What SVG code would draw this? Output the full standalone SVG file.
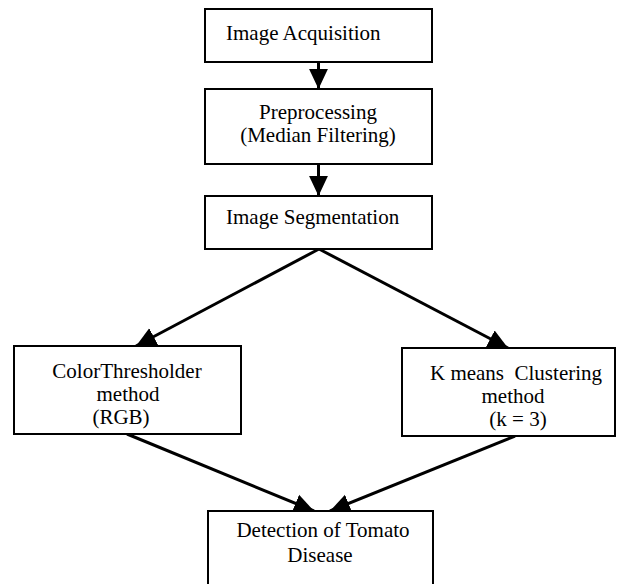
<svg xmlns="http://www.w3.org/2000/svg" width="617" height="584" viewBox="0 0 617 584">
<style>
.box{fill:#fff;stroke:#000;stroke-width:2}
.t{font-family:"Liberation Serif","Times New Roman",serif;font-size:21px;fill:#000}
.c{text-anchor:middle}
.edge{stroke:#000;stroke-width:3;fill:none}
</style>
<defs>
<marker id="ah" markerUnits="userSpaceOnUse" markerWidth="20" markerHeight="20" viewBox="0 0 17 16" refX="17" refY="8" orient="auto">
<path d="M0,0 L17,8 L0,16 Z" fill="#000"/>
</marker>
</defs>
<rect width="617" height="584" fill="#fff"/>
<g id="connectors">
<line class="edge" x1="318.5" y1="62" x2="318.5" y2="89" marker-end="url(#ah)"/>
<line class="edge" x1="318.5" y1="164" x2="318.5" y2="196" marker-end="url(#ah)"/>
<line class="edge" x1="319" y1="249" x2="136" y2="346" marker-end="url(#ah)"/>
<line class="edge" x1="319" y1="249" x2="508" y2="348" marker-end="url(#ah)"/>
<line class="edge" x1="127" y1="434" x2="314" y2="511" marker-end="url(#ah)"/>
<line class="edge" x1="515" y1="436" x2="330" y2="511" marker-end="url(#ah)"/>
</g>
<g id="n1">
<rect class="box" x="205" y="9" width="227" height="53"/>
<text class="t" x="226" y="40">Image Acquisition</text>
</g>
<g id="n2">
<rect class="box" x="205" y="89" width="227" height="75"/>
<text class="t c" x="318" y="119">Preprocessing</text>
<text class="t c" x="318" y="142">(Median Filtering)</text>
</g>
<g id="n3">
<rect class="box" x="205" y="196" width="227" height="53"/>
<text class="t" x="226" y="224">Image Segmentation</text>
</g>
<g id="n4">
<rect class="box" x="14" y="346" width="227" height="88"/>
<text class="t c" x="127" y="378">ColorThresholder</text>
<text class="t c" x="128" y="401">method</text>
<text class="t c" x="121" y="424">(RGB)</text>
</g>
<g id="n5">
<rect class="box" x="402" y="348" width="213" height="88"/>
<text class="t c" x="516" y="380" xml:space="preserve">K means  Clustering</text>
<text class="t c" x="513" y="403">method</text>
<text class="t c" x="518" y="426">(k = 3)</text>
</g>
<g id="n6">
<rect class="box" x="208" y="511" width="225" height="80"/>
<text class="t c" x="323" y="537">Detection of Tomato</text>
<text class="t c" x="320" y="562">Disease</text>
</g>
</svg>
